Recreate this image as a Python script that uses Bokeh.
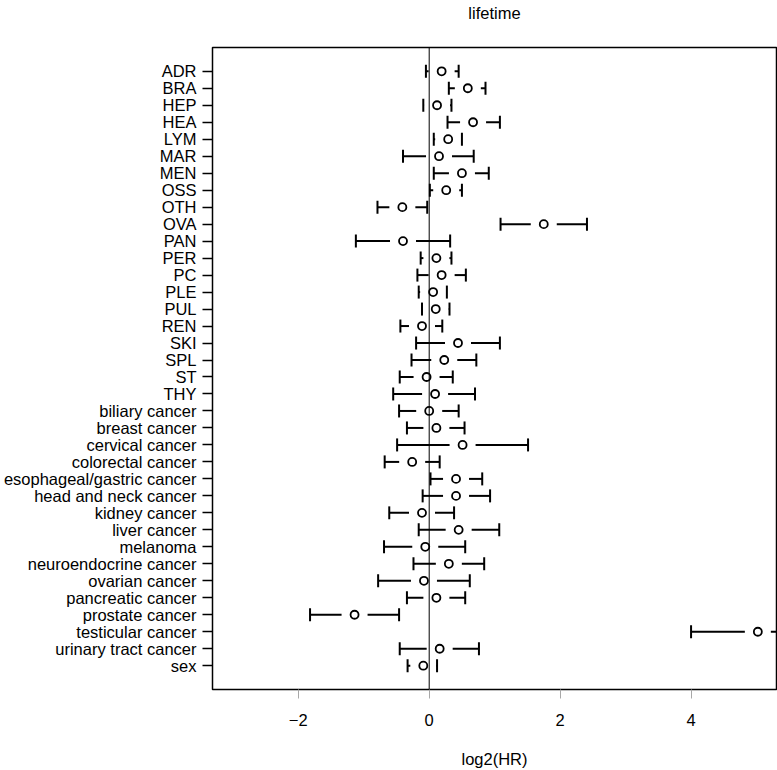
import numpy as np
from bokeh.plotting import figure
from bokeh.models import Range1d, FixedTicker, Span, ColumnDataSource, LinearAxis
from bokeh.embed import file_html
from bokeh.resources import INLINE

labels = ["ADR", "BRA", "HEP", "HEA", "LYM", "MAR", "MEN", "OSS", "OTH", "OVA",
          "PAN", "PER", "PC", "PLE", "PUL", "REN", "SKI", "SPL", "ST", "THY",
          "biliary cancer", "breast cancer", "cervical cancer", "colorectal cancer",
          "esophageal/gastric cancer", "head and neck cancer", "kidney cancer",
          "liver cancer", "melanoma", "neuroendocrine cancer", "ovarian cancer",
          "pancreatic cancer", "prostate cancer", "testicular cancer",
          "urinary tract cancer", "sex"]
estimate = [0.19, 0.59, 0.12, 0.67, 0.29, 0.15, 0.50, 0.26, -0.41, 1.75,
            -0.40, 0.11, 0.19, 0.06, 0.10, -0.11, 0.44, 0.23, -0.04, 0.09,
            0.00, 0.11, 0.51, -0.26, 0.41, 0.41, -0.11, 0.45, -0.06, 0.30,
            -0.08, 0.11, -1.14, 5.02, 0.16, -0.09]
lower = [-0.05, 0.30, -0.09, 0.28, 0.07, -0.40, 0.07, 0.01, -0.79, 1.09,
         -1.12, -0.13, -0.18, -0.16, -0.11, -0.44, -0.20, -0.27, -0.45, -0.55,
         -0.46, -0.34, -0.49, -0.68, 0.02, -0.10, -0.61, -0.16, -0.69, -0.24,
         -0.78, -0.34, -1.82, 4.00, -0.45, -0.33]
upper = [0.45, 0.86, 0.34, 1.08, 0.50, 0.68, 0.91, 0.50, -0.03, 2.41,
         0.32, 0.34, 0.56, 0.27, 0.31, 0.20, 1.08, 0.72, 0.36, 0.70,
         0.45, 0.54, 1.51, 0.16, 0.81, 0.93, 0.38, 1.07, 0.55, 0.84,
         0.62, 0.55, -0.46, 6.05, 0.76, 0.12]
x_ticks = [-2, 0, 2, 4]
x_tick_labels = ["\u22122", "0", "2", "4"]
title_text = "lifetime"
x_title = "log2(HR)"

n = len(labels)
ypos = np.arange(n, 0, -1).astype(float)
est = np.array(estimate)
lo = np.array(lower)
hi = np.array(upper)

X0, X1 = -3.31, 5.305
Y0, Y1 = -0.4, 37.4
W, H = 777, 770
ML, MR, MT, MB = 212, 1, 46, 79
frame_w = W - ML - MR
px_per_x = frame_w / (X1 - X0)
gap = 13 / px_per_x

src = ColumnDataSource(dict(
    y=ypos, est=est, lo=lo, hi=hi,
    lseg=np.maximum(est - gap, lo), rseg=np.minimum(est + gap, hi),
))

FONT = "Liberation Sans"
FS = "16.5px"
p = figure(width=W, height=H, output_backend="svg", toolbar_location=None,
           x_range=Range1d(X0, X1), y_range=Range1d(Y0, Y1),
           min_border_left=ML, min_border_right=MR, min_border_top=MT,
           min_border_bottom=MB)
p.styles = {"position": "absolute", "left": "0px", "top": "0px"}
p.background_fill_color = "white"
p.border_fill_color = "white"
p.outline_line_color = "black"
p.outline_line_width = 1.5
p.xgrid.visible = False
p.ygrid.visible = False

xa = p.below[0]
ya = p.left[0]

# title drawn as the label of an empty axis above the frame
top_axis = LinearAxis(ticker=FixedTicker(ticks=[]), axis_label=title_text)
top_axis.axis_line_color = None
top_axis.major_tick_out = 0
top_axis.major_tick_in = 0
top_axis.minor_tick_line_color = None
top_axis.major_label_text_font_size = "0px"
top_axis.major_label_standoff = 0
top_axis.axis_label_text_font = FONT
top_axis.axis_label_text_font_size = FS
top_axis.axis_label_text_font_style = "normal"
top_axis.axis_label_text_color = "black"
top_axis.axis_label_standoff = 26
p.add_layout(top_axis, "above")

# x axis
xa.ticker = FixedTicker(ticks=x_ticks)
xa.major_label_overrides = {t: l for t, l in zip(x_ticks, x_tick_labels)}
xa.axis_line_color = None
xa.major_tick_in = 0
xa.major_tick_out = 9
xa.major_tick_line_color = "#a8a8a8"
xa.major_tick_line_width = 1
xa.minor_tick_line_color = None
xa.major_label_standoff = 15
xa.major_label_text_font = FONT
xa.major_label_text_font_size = FS
xa.major_label_text_color = "black"
xa.axis_label = x_title
xa.axis_label_text_font = FONT
xa.axis_label_text_font_size = FS
xa.axis_label_text_font_style = "normal"
xa.axis_label_text_color = "black"
xa.axis_label_standoff = 21

# y axis
ya.ticker = FixedTicker(ticks=list(ypos))
ya.major_label_overrides = {float(y): l for y, l in zip(ypos, labels)}
ya.axis_line_color = None
ya.major_tick_in = 0
ya.major_tick_out = 10
ya.major_tick_line_color = "black"
ya.major_tick_line_width = 1.5
ya.minor_tick_line_color = None
ya.major_label_standoff = 6
ya.major_label_text_font = FONT
ya.major_label_text_font_size = FS
ya.major_label_text_color = "black"

# zero line
p.add_layout(Span(location=0, dimension="height", line_color="black", line_width=1))

# whiskers with gap around the point
p.segment(x0="lo", y0="y", x1="lseg", y1="y", source=src, line_color="black", line_width=2)
p.segment(x0="rseg", y0="y", x1="hi", y1="y", source=src, line_color="black", line_width=2)
p.scatter(x="lo", y="y", source=src, marker="dash", angle=np.pi / 2, size=13,
          line_color="black", line_width=2)
p.scatter(x="hi", y="y", source=src, marker="dash", angle=np.pi / 2, size=13,
          line_color="black", line_width=2)
p.scatter(x="est", y="y", source=src, marker="circle", size=8,
          fill_color=None, line_color="black", line_width=1.8)

open("out.html", "w").write(file_html(p, INLINE))
